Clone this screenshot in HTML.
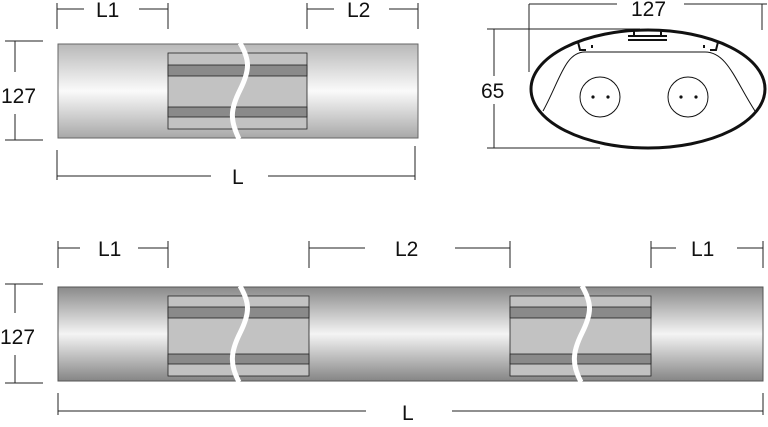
<!DOCTYPE html><html><head><style>body{margin:0;background:#fff}svg{display:block}text{font-family:"Liberation Sans",Arial,sans-serif;font-size:21px;fill:#111}</style></head><body>
<svg width="768" height="427" viewBox="0 0 768 427">
<defs>
<linearGradient id="g1" x1="0" y1="0" x2="0" y2="1"><stop offset="0" stop-color="#b8b8b8"/><stop offset="0.5" stop-color="#fafafa"/><stop offset="1" stop-color="#a8a8a8"/></linearGradient>
<linearGradient id="g2" x1="0" y1="0" x2="0" y2="1"><stop offset="0" stop-color="#8a8a8a"/><stop offset="0.5" stop-color="#f4f4f4"/><stop offset="1" stop-color="#858585"/></linearGradient>
</defs>
<g stroke="#222" stroke-width="1" fill="none">
<path d="M57 3V29M57 9H84M139 9H168M168 3V29M307 3V29M307 9H334M389 9H418M418 3V29"/>
<path d="M5 41H43M15 41V72M15 114V140M5 140H43"/>
<path d="M57 150V180M57 176H211M268 176H415M415 146V180"/>
<path d="M58 241V268M58 248H80M138 248H168M168 241V268"/>
<path d="M309 241V268M309 248H365M455 248H510M510 241V268"/>
<path d="M651 241V268M651 248H676M737 248H763M763 241V268"/>
<path d="M5 284H43M15 284V313M15 355V383M5 383H43"/>
<path d="M58 393V415M58 411H366M452 411H763M763 393V415"/>
<path d="M529 4V72M529 4H617M684 4H767M762 4V30"/>
<path d="M487 29H640M494 29V76M494 104V148M487 148H600"/>
</g>
<text x="96" y="17">L1</text><text x="347" y="17">L2</text>
<text x="1" y="103">127</text><text x="232" y="184">L</text>
<text x="98" y="256">L1</text><text x="395" y="256">L2</text><text x="691" y="256">L1</text>
<text x="0" y="344">127</text><text x="402" y="420">L</text>
<text x="631" y="16">127</text><text x="481" y="98">65</text>
<rect x="58" y="44" width="360" height="94" fill="url(#g1)" stroke="#666"/>
<g stroke="#222" stroke-width="0.8">
<rect x="168" y="53" width="139" height="76" fill="#c2c2c2"/>
<rect x="168" y="65" width="139" height="11" fill="#8a8a8a"/>
<rect x="168" y="107" width="139" height="10" fill="#8a8a8a"/>
</g>
<path d="M240 43C250 60,250 70,240 90S230 120,239 139" stroke="#fff" stroke-width="5" fill="none"/>
<rect x="58" y="287" width="705" height="94" fill="url(#g2)" stroke="#555"/>
<g stroke="#222" stroke-width="0.8">
<rect x="168" y="296" width="141" height="80" fill="#c2c2c2"/>
<rect x="168" y="307" width="141" height="11" fill="#8a8a8a"/>
<rect x="168" y="354" width="141" height="10" fill="#8a8a8a"/>
<rect x="510" y="296" width="141" height="80" fill="#c2c2c2"/>
<rect x="510" y="307" width="141" height="11" fill="#8a8a8a"/>
<rect x="510" y="354" width="141" height="10" fill="#8a8a8a"/>
</g>
<path d="M240 286C250 303,250 313,240 333S230 365,239 382" stroke="#fff" stroke-width="5" fill="none"/>
<path d="M582 286C592 303,592 313,582 333S572 365,581 382" stroke="#fff" stroke-width="5" fill="none"/>
<ellipse cx="648" cy="89" rx="117" ry="59" fill="none" stroke="#111" stroke-width="3"/>
<path d="M543 111C560 80,565 52,585 52H705C727 52,735 80,755 111" fill="none" stroke="#111" stroke-width="1"/>
<path d="M634 31V36M661 31V36M628 36H667M628 40H667" fill="none" stroke="#111" stroke-width="2"/>
<path d="M578 42L580 50H586M592 45V48" fill="none" stroke="#111" stroke-width="2"/>
<path d="M718 42L716 50H710M704 45V48" fill="none" stroke="#111" stroke-width="2"/>
<circle cx="600" cy="97" r="20" fill="none" stroke="#111"/>
<circle cx="688" cy="97" r="20" fill="none" stroke="#111"/>
<circle cx="593" cy="97" r="1.6" fill="#111"/><circle cx="608" cy="97" r="1.6" fill="#111"/>
<circle cx="681" cy="97" r="1.6" fill="#111"/><circle cx="696" cy="97" r="1.6" fill="#111"/>
</svg></body></html>
